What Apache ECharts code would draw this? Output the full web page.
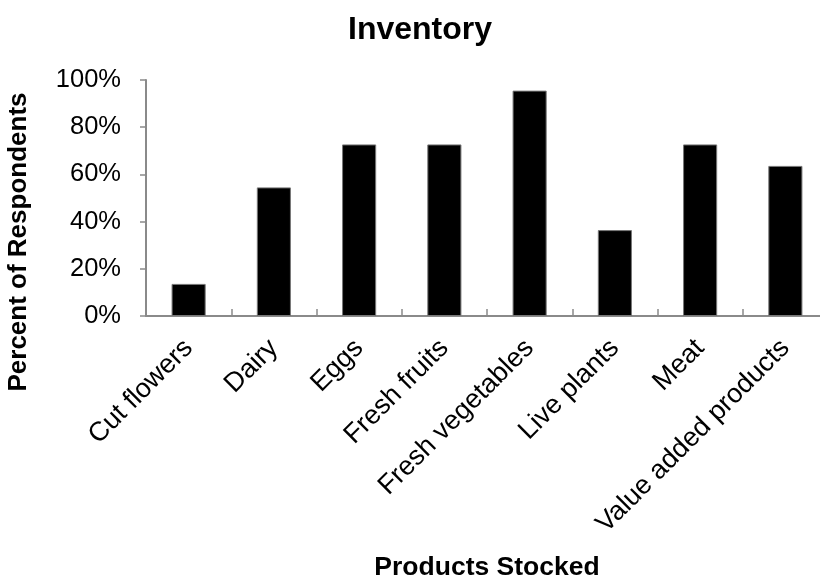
<!DOCTYPE html>
<html><head><meta charset="utf-8">
<script src="https://cdn.jsdelivr.net/npm/echarts@6/dist/echarts.min.js"></script>
<style>html,body{margin:0;padding:0;background:#fff}#c{width:820px;height:579px}</style>
</head><body><div id="c"></div>
<script>
var categories = ["Cut flowers","Dairy","Eggs","Fresh fruits","Fresh vegetables","Live plants","Meat","Value added products"];
var values = [0.136, 0.545, 0.727, 0.727, 0.955, 0.364, 0.727, 0.636];
var yTicks = [0, 0.2, 0.4, 0.6, 0.8, 1.0];
var chart = echarts.init(document.getElementById('c'));
var F = '"Liberation Sans", Arial, sans-serif';
chart.setOption({
  animation: false,
  backgroundColor: '#fff',
  title: {text: 'Inventory', left: 343, top: 9,
    textStyle: {fontFamily: F, fontSize: 32, fontWeight: 'bold', color: '#000'}},
  grid: {left: 146, right: -8, top: 80, bottom: 263, containLabel: false, outerBoundsMode: 'none'},
  xAxis: {
    type: 'category', data: categories,
    name: 'Products Stocked', nameLocation: 'middle', nameGap: 238,
    nameTextStyle: {fontFamily: F, fontSize: 26.5, fontWeight: 'bold', color: '#000'},
    axisLine: {lineStyle: {color: '#8a8a8a', width: 2}},
    axisTick: {show: true, inside: true, length: 7, lineStyle: {color: '#8a8a8a', width: 1.5}},
    axisLabel: {rotate: 45, interval: 0, margin: 28, fontFamily: F, fontSize: 27, color: '#000'}
  },
  yAxis: {
    type: 'value', min: 0, max: 1, interval: 0.2,
    name: 'Percent of Respondents', nameLocation: 'middle', nameGap: 114,
    nameTextStyle: {fontFamily: F, fontSize: 26, fontWeight: 'bold', color: '#000', padding: [0, 88, 0, 0]},
    splitLine: {show: false},
    axisLine: {show: true, lineStyle: {color: '#8a8a8a', width: 2}},
    axisTick: {show: true, length: 6, lineStyle: {color: '#8a8a8a', width: 1.5}},
    axisLabel: {margin: 25, fontFamily: F, fontSize: 25.5, color: '#000',
      formatter: function(v){ return yTicks.indexOf(Math.round(v*10)/10) >= 0 ? Math.round(v*100) + '%' : ''; }}
  },
  series: [{
    type: 'bar', data: values, barWidth: '40%',
    itemStyle: {color: '#000', borderColor: '#777', borderWidth: 1}
  }]
});
</script></body></html>
